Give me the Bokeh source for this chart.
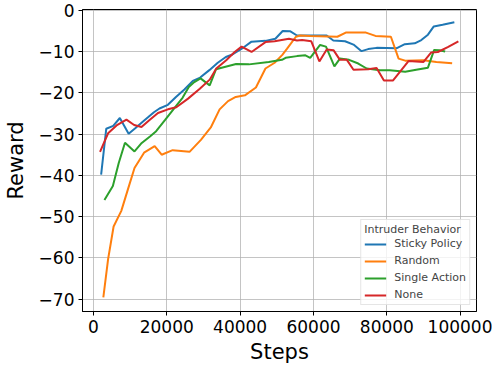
from bokeh.plotting import figure
from bokeh.models import Range1d, FixedTicker, Legend, LegendItem
from bokeh.embed import file_html
from bokeh.resources import INLINE

# ---- data (steps in raw units, reward) ----
sticky_x = [2100, 3500, 5400, 7200, 9600, 11400, 13200, 14800, 16500, 18000, 20300, 22500,
            24800, 27100, 29100, 31600, 33900, 36100, 37900, 41100, 43100, 46900, 49600,
            51600, 53700, 55500, 58200, 63600, 65400, 68600, 70900, 73100, 74900, 77200,
            82600, 84900, 87600, 89400, 91200, 92800, 95200, 98400]
sticky_y = [-39.8, -28.7, -28.0, -26.1, -29.9, -28.6, -27.2, -26.0, -24.7, -23.8, -22.9, -21.0,
            -19.2, -17.1, -16.3, -14.5, -12.7, -11.3, -10.7, -8.9, -7.6, -7.4, -6.9,
            -5.0, -5.1, -6.1, -6.1, -6.1, -7.3, -7.5, -8.3, -9.9, -9.4, -9.1,
            -9.2, -8.2, -8.0, -7.2, -5.9, -3.9, -3.5, -2.9]

random_x = [2700, 4000, 5500, 7600, 9400, 11200, 13800, 16700, 18600, 21600, 26200, 29300,
            32000, 34400, 36700, 38800, 41300, 44300, 46900, 49400, 51500, 52800, 55200,
            56400, 59100, 66500, 68800, 74300, 76900, 81100, 83200, 85000, 90000, 93500, 97800]
random_y = [-69.6, -60.3, -52.4, -48.6, -43.4, -38.2, -34.5, -32.9, -35.0, -33.9, -34.3, -31.4,
            -28.4, -24.0, -22.0, -21.0, -20.6, -18.7, -14.1, -12.7, -10.8, -9.3, -6.4,
            -6.1, -6.2, -6.4, -5.4, -5.4, -6.2, -6.4, -11.7, -12.2, -12.1, -12.5, -12.8]

single_x = [3000, 5300, 6900, 8600, 11200, 13000, 15500, 17100, 19600, 22500, 24300, 26000,
            27500, 29200, 31700, 33400, 38900, 42400, 47800, 51400, 52400, 55500, 57800,
            59100, 61800, 63400, 65700, 67200, 69700, 72200, 74500, 78100, 80800, 85000,
            88000, 91200, 92900, 94300, 95900]
single_y = [-46.0, -42.6, -37.0, -32.1, -34.2, -32.3, -30.5, -29.3, -26.5, -23.2, -21.2, -18.6,
            -17.4, -16.5, -18.2, -14.3, -13.0, -13.1, -12.5, -12.0, -11.5, -11.1, -10.9,
            -11.5, -8.4, -8.8, -13.6, -11.7, -12.0, -12.9, -14.1, -14.5, -14.5, -14.9,
            -14.4, -13.9, -9.6, -9.7, -10.0]

none_x = [1800, 4000, 6300, 9000, 11100, 13100, 15300, 17600, 20300, 22600, 25800, 29000,
          31700, 33500, 36200, 38500, 40400, 43100, 46900, 49400, 53300, 55500, 56900,
          59400, 61600, 63600, 65500, 67200, 69100, 70900, 74900, 77200, 79200, 81700,
          85900, 90000, 92100, 93900, 96600, 99500]
none_y = [-34.3, -29.8, -27.9, -26.5, -27.8, -28.3, -26.6, -24.9, -24.0, -23.5, -21.4, -19.0,
          -16.8, -14.1, -12.1, -10.1, -8.8, -10.1, -7.7, -7.5, -6.9, -7.3, -7.2,
          -7.5, -12.4, -9.5, -9.7, -12.0, -12.0, -14.4, -14.3, -14.0, -17.0, -17.0,
          -12.3, -12.5, -10.2, -10.1, -8.9, -7.5]

series_names = ["Sticky Policy", "Random", "Single Action", "None"]
series_colors = ["#1f77b4", "#ff7f0e", "#2ca02c", "#d62728"]

x_ticks = [0, 20000, 40000, 60000, 80000, 100000]
x_tick_labels = ["0", "20000", "40000", "60000", "80000", "100000"]
y_ticks = [0, -10, -20, -30, -40, -50, -60, -70]
y_tick_labels = ["0", "\u221210", "\u221220", "\u221230", "\u221240", "\u221250", "\u221260", "\u221270"]

FONT = "DejaVu Sans"

p = figure(width=492, height=366, output_backend="svg", toolbar_location=None,
           x_range=Range1d(-2980, 104440), y_range=Range1d(-73.0, 0.2))
p.min_border_left = 79
p.min_border_right = 16
p.min_border_top = 9
p.min_border_bottom = 53
p.background_fill_color = "white"
p.border_fill_color = "white"
p.outline_line_color = "black"
p.outline_line_width = 1

for ax, ticks, labels in ((p.xaxis[0], x_ticks, x_tick_labels), (p.yaxis[0], y_ticks, y_tick_labels)):
    ax.ticker = FixedTicker(ticks=ticks)
    ax.major_label_overrides = {t: l for t, l in zip(ticks, labels)}
    ax.major_label_text_font = FONT
    ax.major_label_text_font_size = "17px"
    ax.major_label_text_color = "black"
    ax.axis_label_text_font = FONT
    ax.axis_label_text_font_size = "21px"
    ax.axis_label_text_font_style = "normal"
    ax.axis_label_text_color = "black"
    ax.axis_line_color = "black"
    ax.major_tick_line_color = "black"
    ax.major_tick_in = 0
    ax.major_tick_out = 4
    ax.minor_tick_line_color = None

p.xaxis.axis_label = "Steps"
p.yaxis.axis_label = "Reward"
p.xaxis.major_label_standoff = 4
p.yaxis.major_label_standoff = 4
p.xaxis.axis_label_standoff = 4
p.yaxis.axis_label_standoff = 8

p.xgrid.ticker = FixedTicker(ticks=x_ticks)
p.ygrid.ticker = FixedTicker(ticks=y_ticks)
p.grid.grid_line_color = "#b0b0b0"
p.grid.grid_line_alpha = 0.75
p.grid.grid_line_width = 1

xs = [sticky_x, random_x, single_x, none_x]
ys = [sticky_y, random_y, single_y, none_y]
items = []
for name, col, x, y in zip(series_names, series_colors, xs, ys):
    r = p.line(x, y, line_color=col, line_width=2)
    items.append(LegendItem(label=name, renderers=[r]))

legend = Legend(items=items, location="bottom_right", title="Intruder Behavior")
legend.title_text_font = FONT
legend.title_text_font_size = "11px"
legend.title_text_font_style = "normal"
legend.title_standoff = 1
legend.label_text_font = FONT
legend.label_text_font_size = "11px"
legend.glyph_width = 22
legend.glyph_height = 12
legend.label_height = 12
legend.label_standoff = 8
legend.spacing = 4
legend.padding = 3
legend.margin = 6
legend.border_line_color = "#cccccc"
legend.border_line_width = 1
legend.background_fill_color = "white"
legend.background_fill_alpha = 0.8
p.add_layout(legend)

open("out.html", "w").write(file_html(p, INLINE))
